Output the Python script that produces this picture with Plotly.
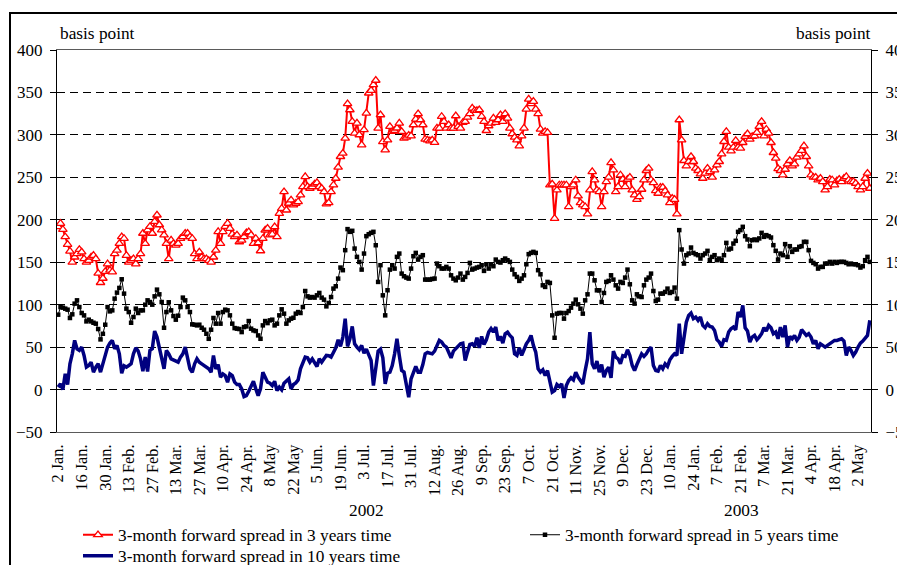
import plotly.graph_objects as go

# ---------------- data ----------------
tick_labels = [
    "2 Jan.", "16 Jan.", "30 Jan.", "13 Feb.", "27 Feb.", "13 Mar.", "27 Mar.",
    "10 Apr.", "24 Apr.", "8 May", "22 May", "5 Jun.", "19 Jun.", "3 Jul.",
    "17 Jul.", "31 Jul.", "12 Aug.", "26 Aug.", "9 Sep.", "23 Sep.", "7 Oct.",
    "21 Oct.", "11 Nov.", "25 Nov.", "9 Dec.", "23 Dec.", "10 Jan.", "24 Jan.",
    "7 Feb.", "21 Feb.", "7 Mar.", "21 Mar.", "4 Apr.", "18 Apr.", "2 May",
]
year_labels = ["2002", "2003"]
series_names = [
    "3-month forward spread in 3 years time",
    "3-month forward spread in 5 years time",
    "3-month forward spread in 10 years time",
]

# daily observations (basis points), 2 Jan 2002 - early May 2003
spread_3y = [
    191.7, 195.7, 188.6, 180, 171, 163, 150, 156, 160, 165, 162, 154, 150, 152, 156, 158, 154, 137,
    126, 131, 139, 148, 140.5, 138.6, 160, 164, 172, 180, 178, 158, 150, 152, 154, 148, 154, 160,
    184, 172, 188, 192, 184, 198, 205.5, 194, 188, 182, 172, 154, 176, 172, 170, 172, 178, 180,
    184, 184, 180, 178, 160, 154, 162, 156, 154, 154, 152, 150, 156, 164, 186, 172, 186, 192,
    195.7, 189.8, 183, 180, 182, 174, 176, 180, 184.6, 185.8, 182, 172, 178, 172.8, 163.4, 178,
    187.8, 189.8, 182, 183, 191.7, 180, 207.5, 213.4, 233, 211.4, 219.3, 223.2, 217.3, 219.3,
    221.3, 229.1, 239, 250.8, 239, 237, 239, 242, 243.7, 239, 237, 233, 218.5, 220, 233, 241,
    248.8, 261.8, 274.4, 278.3, 296, 336.6, 329.5, 315.7, 302, 313.8, 300, 288.2, 306, 325.6,
    349.2, 352.4, 359, 364.2, 307.9, 323.6, 292, 282.3, 294,
    309.8, 304, 305, 308, 313.8, 304, 296, 297.2, 299.6, 298.8, 311.8, 318.5, 324.8, 317.7,
    311.8, 294.9, 294, 292.9, 294, 291, 307.9, 307.9, 321.7, 315.7, 307.9, 311.8, 307.9, 307.9,
    322.4, 309.8, 307.9, 314.6, 315.7, 320.9, 324.8, 331.5, 328.7, 328.7, 329.5, 321.7, 315.7,
    305, 310.6, 313.8, 319.7, 314.6, 317.7, 323.6, 315.7, 324.8, 319.7, 307.9, 301.2, 297.2, 294,
    287, 298.8, 307.9, 330.3, 342.1, 336.6, 339.4, 330.3, 324.8, 306.7, 302, 303.9, 302.8, 241, 242,
    201.6, 235, 241, 241, 241, 241, 215.4, 239, 241, 246.9, 228, 220, 217.3, 215.4, 206.7, 235,
    256.7, 246.9, 235, 233, 215.4, 233, 244.9, 250, 267.3, 258.7, 233, 239, 252.8, 247.6, 239,
    247.6, 250, 235, 229.1, 224, 227.2, 235.8, 246.9, 257.9, 260.6, 246.9, 243.7, 234.3, 231.1,
    238.2, 238.2, 233.9, 229.1, 220, 225.2, 224, 206.7, 317.7, 294, 269.7, 263.4, 268.5, 274.4,
    268.5, 260.6, 257.9, 253.9, 248.8, 254.7, 260.6, 256.7, 250, 258.7, 264.6,
    268.5, 277.6, 292.1, 304, 285.4, 281.1, 285.4, 293.3, 285.4, 284.3, 290.9, 298, 301.2, 294.9,
    298, 298.8, 302.8, 309.8, 315.7, 298.8, 306.7, 302, 290.9, 279.1, 272.4, 260.2, 257.9, 252.8,
    259.4, 265.7, 269.7, 263.4, 265.7, 273.6, 277.6, 281.5, 287, 274.4, 263.4, 252.8, 250, 250,
    246.9, 248.8, 244.9, 235, 239, 247.6, 246.9, 241, 246, 247.6, 244.9, 248.8, 250.8, 246.9,
    244.9, 244.9, 242.9, 239, 235, 239, 248.8, 254.7, 237,
]
spread_5y = [
    88.2, 97.2, 96.5, 95.3, 94.1, 84.3, 88.6, 101.2, 105.1, 97.2, 90.2, 87.4, 80.3, 82.3, 80.3,
    78.7, 77.6, 71.3, 59.1, 65.7, 76.4, 97.2, 92.1, 93.3, 107.1, 114.2, 119.7, 129.9, 113, 95.3,
    91.3, 78.7, 85.4, 95.3, 90.2, 93.3, 93.3, 100, 105.1, 103.1, 100, 109.8, 117.7, 112.2, 103.1,
    72.8, 91.3, 102.8, 93.3, 86.6, 82.3, 87, 97.2, 108.3, 105.1, 97.2, 91.3, 76.8, 76.4, 75.6,
    76.4, 72.8, 70.5, 65.7, 59.8, 70.5, 84.3, 77.6, 90.2, 77.6, 91.3, 94.1,
    93.3, 87.4, 77.6, 72.4, 71.7, 71.3, 67.7, 73.6, 74.4, 80.7, 71.7, 69.7, 68.9, 63.8, 59.8,
    75.6, 80.7, 78.3, 81.5, 82.3, 75.6, 77.6, 87.4, 94.5, 89.4, 77.6, 81.5, 83.5, 84.6, 89.4,
    91.3, 90.2, 97.2, 116.1, 109.8, 108.3, 109, 108.3, 111, 113.8, 108.3, 105.9, 98, 102, 109,
    118.9, 121.7, 130.7, 143.7, 140.6, 164.2, 189, 185.8, 187, 166.1, 156.3, 150.4, 141.3, 160.2,
    180.7, 183, 184.6, 185.8, 170, 126.8, 146.5, 111, 87.4, 117,
    141.3, 146.5, 142.5, 156.3, 160.2, 136.6, 133.5, 131.9, 130.7, 142.5, 157.1, 161, 153.1,
    156.3, 158.3, 129.5, 129.5, 129.5, 130.3, 130.7, 148.4, 145.3, 142.5, 142.5, 144.5, 142.5,
    134.6, 130.7, 128.7, 131.9, 136.6, 129.5, 132.7, 137.4, 149.2, 141.3, 142.5, 143.7, 144.5,
    146.5, 139.8, 147.6, 142.5, 147.6, 145.3, 153.1, 150.4, 149.6, 152.4, 154.3, 152.4, 150.4,
    141.3, 135.8, 132.7, 128, 130.7, 134.6, 147.6, 159.5, 161, 162.2, 161, 140.6, 135.8, 122.8,
    120.9, 126.8, 125.6, 87.4,
    61, 89.4, 90.2, 90.2, 83.5, 90.2, 92.5, 96.5, 101.2, 105.9, 100.4, 95.3, 89.4, 105.1, 112.2,
    136.6, 136.6, 128.7, 116.9, 116.9, 103.1, 113.8, 126.8, 128, 134.6, 129.5, 122.8, 118.9,
    126.8, 125.6, 131.9, 141.3, 124, 105.1, 101.2, 112.2, 109.8, 109, 122.8, 129.5, 131.9, 136.6,
    116.1, 104.3, 105.9, 113, 113, 115, 118.9, 113.8, 115, 120.1, 107.1, 187.8, 165, 148.4,
    158.3, 160.2, 167.3, 161, 159.4, 158.3, 154.3, 158.3, 160.2, 163.4, 152.4, 156.3, 158.3, 152.4,
    154.3, 152.4, 158.3, 172.8, 165, 166.1, 172, 175.2, 185.8, 187.8, 191.7, 180.7, 176.8, 168.9,
    176, 176.8, 176, 178, 184.6, 179.9, 181.9, 180.7, 179.1, 170.1, 163.4, 153.1, 160.2, 158.3,
    171.3, 156.3, 168.9, 162.2, 165, 165, 168.1, 168.9, 174, 174, 164.2, 151.6, 149.2, 147.6,
    142.5, 144.5, 144.5, 148.4, 148.4, 150.4, 148.4, 150.4, 149.2, 150.4, 150.4, 150.4, 149.2,
    147.6, 148.4, 147.6, 147.6, 146.5, 143.7, 145.3, 152.4, 156.3, 150.4,
]
spread_10y = [
    2.8, 6.7, 0, 18.5, 5.9, 30.3, 42.1, 57.9, 48, 46.1, 50, 40.2, 26.4, 28.3, 32.3, 20.5, 26.4,
    30.3, 20.5, 29.5, 38.2, 50, 54.7, 57.9, 48, 52, 42.1, 19.3, 28, 26.4, 28.3, 30.3, 42.1, 49.2,
    45.3, 36.2, 21.7, 38.2, 21.3, 46.1, 48, 68.9, 61.8, 48, 38.2, 24.4, 46.1, 42.1, 36.2, 35,
    34.3, 32.3, 38.2, 42.1, 50, 38.2, 24.4, 20.5, 30.3, 36.2, 32.3, 30.3, 28.3, 26.4, 24.4, 20.5,
    40.2, 24.4, 29.5, 14.6, 18.5, 16.5,
    8.7, 18.5, 16.5, 8.7, 5.9, 5.9, 0.8, -8.3, -7.1, -2, 4.7, 9.8, 0.8, -7.1, 0.8, 20.5, 14.6,
    8.7, 7.5, 4.7, 9.8, -1.2, 2.8, -0.4, 7.5, 10.6, 12.6, 0.8, 5.9, 7.9, 11.4, 24.4, 30.3, 38.2,
    37.4, 32.3, 36.2, 32.3, 27.2, 36.2, 32.3, 36.2, 40.2, 39.8, 38.2, 43.7, 49.2, 58.7, 50.8,
    61.8, 83.5, 50.8, 59.8, 74.4, 53.9, 50, 46.9, 52, 42.9, 47.6, 40.2, 34.3, 4.7, 26.4, 45.3,
    47.6, 37.4, 6.7, 19.3,
    20.5, 28.3, 42.1, 59.8, 40.2, 22.4, 20.5, 4.7, -9.1, 12.6, 20.5, 27.2, 20.5, 20.5, 29.5,
    42.1, 43.7, 42.9, 42.1, 45.3, 52, 57.9, 55.9, 52, 50, 42.9, 37.4, 45.3, 48, 51.2, 53.9, 54.7,
    34.3, 44.1, 53.1, 53.9, 50.8, 61, 49.2, 62.6, 53.1, 58.7, 67.7, 71.7, 67.7, 73.6, 57.9, 62.6,
    54.7, 65.7, 67.7, 63.8, 61, 42.1, 40.2, 49.2, 40.2, 46.9, 53.9, 57.9, 63.8, 52, 44.1, 24.4,
    20.5, 23.2, 16.5, 22.4, 8.7, -3.1,
    -1.2, 5.9, 3.5, 6.7, -9.8, 4.7, 10.6, 13.8, 11.4, 20.5, 14.6, 10.6, 6.7, 22.4, 36.2, 67.7,
    30.3, 24.4, 33.5, 20.5, 29.5, 14.6, 22.4, 26.4, 13.8, 45.3, 38.2, 36.2, 30.3, 39.8, 39, 46.9,
    40.2, 28.3, 22.4, 29.5, 36.2, 42.1, 39, 42.1, 46.9, 50, 28.3, 22.4, 21.7, 28.3, 24.4, 30.3,
    27.2, 35, 39, 42.1, 40.2, 77.6, 42.1, 63.8, 79.5, 87.4, 90.2, 83.5, 85.4, 81.5, 85.4, 75.6,
    72.8, 77.6, 74.4, 73.6, 69.7, 58.7,
    55.9, 50.8, 58.7, 57.9, 67.7, 71.7, 73.6, 70.5, 91.3, 85.4, 99.2, 72.8, 68.9, 55.9, 61.8,
    63.8, 58.7, 61.8, 65.7, 72.8, 68.9, 75.6, 72.8, 65.7, 67.7, 59.8, 73.6, 61.8, 75.6, 50, 62.6,
    59.8, 63.8, 57.9, 61.8, 70.5, 67.7, 63.8, 65.7, 61.8, 53.9, 57.9, 48, 53.9, 52, 50, 52, 53.9,
    55.9, 57.9, 57.9, 58.7, 59.8, 57.1, 40.2, 50, 46.1, 40.2, 44.1, 50, 54.7, 57.1, 59.8, 63.8, 81.5,
]

# ---------------- figure ----------------
FONT = "'Liberation Serif', 'Times New Roman', Times, serif"
n_obs = len(spread_3y)
obs = list(range(n_obs))

# the page body adds an 8 px offset; all screen positions below are given in
# window pixels and converted to figure pixels with OFF
OFF = 8
WIN_W, WIN_H = 905, 565
W, H = WIN_W - OFF, WIN_H - OFF
L, R, T, B = 57, 871, 50, 432          # plot area in window pixels
pw, ph = R - L, B - T


def px(xp):
    return (xp - L) / pw


def py(yp):
    return (B - yp) / ph


fig = go.Figure()
fig.add_trace(go.Scatter(
    x=obs, y=spread_3y, mode="lines+markers", name=series_names[0],
    line=dict(color="#ff0000", width=2),
    marker=dict(symbol="triangle-up", size=7.5, color="white",
                line=dict(color="#ff0000", width=1.3)),
    legend="legend",
))
fig.add_trace(go.Scatter(
    x=obs, y=spread_5y, mode="lines+markers", name=series_names[1],
    line=dict(color="black", width=1),
    marker=dict(symbol="square", size=4.5, color="black"),
    legend="legend2",
))
# 10-year series is plotted against the right-hand axis (identical scale)
fig.add_trace(go.Scatter(
    x=obs, y=spread_10y, mode="lines", name=series_names[2],
    line=dict(color="#000080", width=3.5),
    legend="legend3", yaxis="y2",
))

xr = [-0.5, n_obs - 0.5]
yr = [-50, 400]
ytv = list(range(-50, 401, 50))

leg_common = dict(font=dict(family=FONT, size=17.3, color="black"),
                  bgcolor="rgba(0,0,0,0)", borderwidth=0, xanchor="left",
                  yanchor="middle", itemwidth=30, tracegroupgap=0)

fig.update_layout(
    width=W, height=H, autosize=False,
    margin=dict(l=L - OFF, r=(W + OFF) - R, t=T - OFF, b=(H + OFF) - B, pad=0,
                autoexpand=False),
    paper_bgcolor="white", plot_bgcolor="white",
    font=dict(family=FONT, size=17, color="black"),
    xaxis=dict(
        range=xr, tickmode="array",
        tickvals=list(range(0, n_obs, 10))[:len(tick_labels)],
        ticktext=tick_labels, tickangle=-90, ticks="", ticklabelstandoff=5,
        tickfont=dict(family=FONT, size=16.3, color="black"),
        showgrid=False, zeroline=False, automargin=False,
        showline=True, linecolor="#5a5a5a", linewidth=1, mirror=True,
    ),
    xaxis2=dict(
        range=xr, overlaying="x", anchor="free", position=(0 - yr[0]) / (yr[1] - yr[0]),
        side="bottom", tickmode="array",
        tickvals=[i - 0.5 for i in range(10, n_obs, 10)],
        ticks="outside", ticklen=6, tickcolor="black", tickwidth=1,
        showticklabels=False, showgrid=False, zeroline=False,
        showline=True, linecolor="black", linewidth=1,
    ),
    yaxis=dict(
        range=yr, tickmode="array", tickvals=ytv,
        ticks="outside", ticklen=6, tickcolor="black", ticklabelstandoff=4,
        showgrid=True, gridcolor="black", gridwidth=1, griddash="8px,5px",
        zeroline=False, showline=True, linecolor="black", linewidth=1, automargin=False,
        tickfont=dict(family=FONT, size=17, color="black"),
    ),
    yaxis2=dict(
        range=yr, overlaying="y", side="right", anchor="x", tickmode="array",
        tickvals=ytv, ticks="outside", ticklen=6, tickcolor="black", ticklabelstandoff=4,
        ticklabeloverflow="allow",
        showgrid=False, zeroline=False, showline=True, linecolor="black", linewidth=1,
        automargin=False,
        tickfont=dict(family=FONT, size=17, color="black"),
    ),
    legend=dict(x=px(78), y=py(535), **leg_common),
    legend2=dict(x=px(525), y=py(535), **leg_common),
    legend3=dict(x=px(78), y=py(556), **leg_common),
    showlegend=True,
)

fig.add_annotation(text="basis point", xref="paper", yref="paper", x=px(58), y=py(33),
                   xanchor="left", yanchor="middle", showarrow=False,
                   font=dict(family=FONT, size=17.3, color="black"))
fig.add_annotation(text="basis point", xref="paper", yref="paper", x=px(873), y=py(33),
                   xanchor="right", yanchor="middle", showarrow=False,
                   font=dict(family=FONT, size=17.3, color="black"))
fig.add_annotation(text=year_labels[0], xref="paper", yref="paper", x=px(366), y=py(511),
                   xanchor="center", yanchor="middle", showarrow=False,
                   font=dict(family=FONT, size=17.3, color="black"))
fig.add_annotation(text=year_labels[1], xref="paper", yref="paper", x=px(741), y=py(511),
                   xanchor="center", yanchor="middle", showarrow=False,
                   font=dict(family=FONT, size=17.3, color="black"))

# outer frame of the exhibit (extends beyond the right and bottom edges)
fig.add_shape(type="rect", xref="paper", yref="paper",
              x0=px(10), x1=px(WIN_W + 20), y0=py(WIN_H + 20), y1=py(13),
              line=dict(color="black", width=2), fillcolor="rgba(0,0,0,0)", layer="above")

fig.write_html("out.html")
